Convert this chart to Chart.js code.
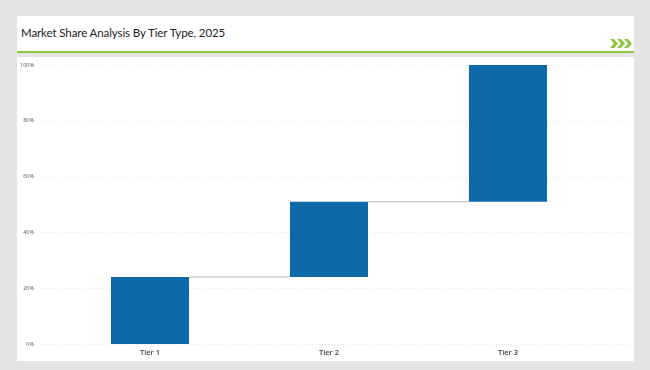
<!DOCTYPE html>
<html>
<head>
<meta charset="utf-8">
<script src="https://cdn.jsdelivr.net/npm/chart.js@4.4.1/dist/chart.umd.min.js"></script>
<style>
  html,body{margin:0;padding:0;}
  body{width:650px;height:370px;background:#e4e4e4;position:relative;overflow:hidden;font-family:"Open Sans",sans-serif;}
  #head{position:absolute;left:17px;top:16px;width:617px;height:35px;background:#fff;}
  #title{position:absolute;left:4px;top:9.5px;line-height:14px;font-family:Lato,sans-serif;font-size:11.5px;letter-spacing:-0.1px;color:#222;white-space:nowrap;}
  #green{position:absolute;left:17px;top:51px;width:617px;height:2px;background:#8cc63f;}
  #chev{position:absolute;left:610px;top:39px;}
  #card{position:absolute;left:17px;top:57px;width:617px;height:304px;background:#fff;}
  #c{display:block;width:617px;height:304px;}
</style>
</head>
<body>
<div id="head"><div id="title">Market Share Analysis By Tier Type, 2025</div></div>
<svg id="chev" width="24" height="9" viewBox="0 0 24 9">
  <polygon points="0,0 4,0 8,4.5 4,9 0,9 4,4.5" fill="#8cc63f"/>
  <polygon points="7,0 11,0 15,4.5 11,9 7,9 11,4.5" fill="#8cc63f"/>
  <polygon points="14,0 18,0 22,4.5 18,9 14,9 18,4.5" fill="#8cc63f"/>
</svg>
<div id="green"></div>
<div id="card"><canvas id="c" width="617" height="304"></canvas></div>
<script>
const categories = ["Tier 1", "Tier 2", "Tier 3"];
const shares = [24, 27, 49];
const yTicks = [0, 20, 40, 60, 80, 100];

// cumulative floating ranges built from shares
const ranges = [];
let acc = 0;
for (const s of shares) { ranges.push([acc, acc + s]); acc += s; }

const gridPlugin = {
  id: 'extGrid',
  beforeDatasetsDraw(chart) {
    const ctx = chart.ctx, y = chart.scales.y;
    ctx.save();
    ctx.strokeStyle = '#e6e6e6';
    ctx.lineWidth = 1;
    ctx.setLineDash([1, 2]);
    for (const v of yTicks) {
      const py = Math.round(y.getPixelForValue(v)) + 0.5;
      ctx.beginPath(); ctx.moveTo(23, py); ctx.lineTo(613, py); ctx.stroke();
    }
    ctx.restore();
  },
  afterDatasetsDraw(chart) {
    const ctx = chart.ctx, y = chart.scales.y;
    const meta = chart.getDatasetMeta(0);
    ctx.save();
    ctx.strokeStyle = '#cfcfcf';
    ctx.lineWidth = 1.5;
    for (let i = 0; i < meta.data.length - 1; i++) {
      const a = meta.data[i], b = meta.data[i + 1];
      const py = y.getPixelForValue(ranges[i][1]);
      ctx.beginPath();
      ctx.moveTo(a.x + a.width / 2, py);
      ctx.lineTo(b.x - b.width / 2, py);
      ctx.stroke();
    }
    ctx.restore();
  }
};

const chart = new Chart(document.getElementById('c'), {
  type: 'bar',
  data: {
    labels: categories,
    datasets: [{
      data: ranges,
      backgroundColor: '#0e69a8',
      borderWidth: 0,
      categoryPercentage: 1,
      barPercentage: 0.436
    }]
  },
  options: {
    responsive: false,
    maintainAspectRatio: false,
    animation: false,
    devicePixelRatio: 1,
    layout: { padding: { top: 8, right: 36.5, bottom: 0, left: 0 } },
    plugins: { legend: { display: false }, tooltip: { enabled: false } },
    scales: {
      x: {
        grid: { display: false, drawTicks: false },
        border: { display: false },
        ticks: { padding: 4, color: '#444', font: { family: 'Open Sans', size: 7.5, weight: '600' } },
        afterFit(s) { s.height = 17; }
      },
      y: {
        min: 0, max: 100,
        afterBuildTicks(s) { s.ticks = yTicks.map(v => ({ value: v })); },
        grid: { display: false, drawTicks: false },
        border: { display: false },
        ticks: {
          padding: 26.5, color: '#555',
          font: { family: 'Open Sans', size: 5.5 },
          callback: v => v + '%'
        },
        afterFit(s) { s.width = 43.5; s.paddingTop = 0; s.paddingBottom = 0; }
      }
    }
  },
  plugins: [gridPlugin]
});
</script>
</body>
</html>
